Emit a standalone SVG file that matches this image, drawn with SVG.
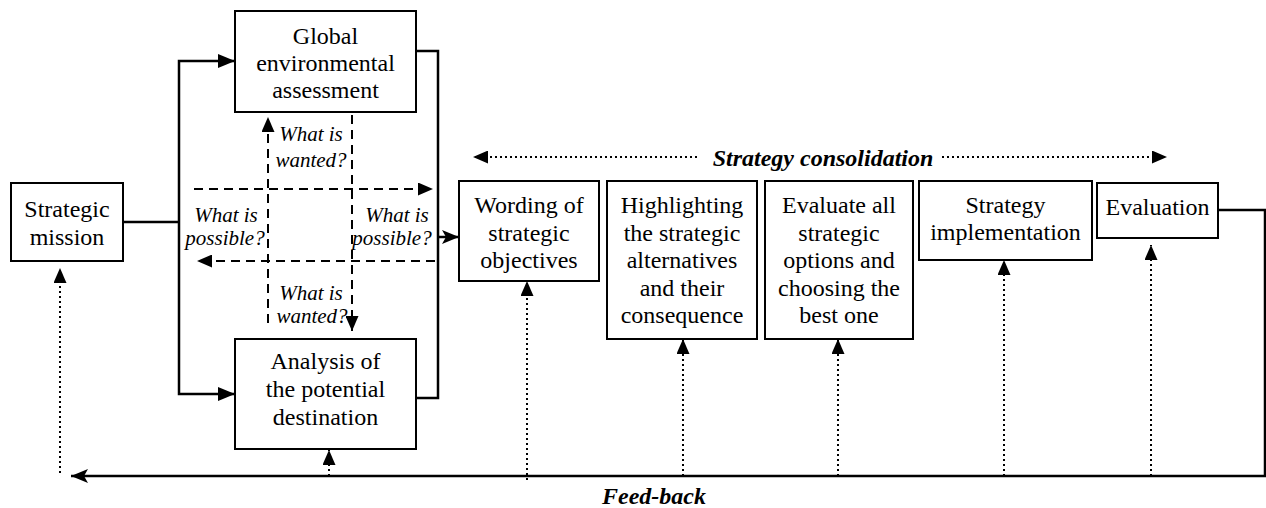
<svg xmlns="http://www.w3.org/2000/svg" width="1266" height="508" viewBox="0 0 1266 508">
<style>
.box{fill:#fff;stroke:#000;stroke-width:2}
.t{font-family:'Liberation Serif','Times New Roman',serif;font-size:24px;fill:#000;text-anchor:middle}
.q{font-family:'Liberation Serif','Times New Roman',serif;font-size:21px;font-style:italic;fill:#000;text-anchor:middle}
.b{font-family:'Liberation Serif','Times New Roman',serif;font-size:24px;font-style:italic;font-weight:bold;fill:#000;text-anchor:middle}
.solid{fill:none;stroke:#000;stroke-width:2.5}
.dash{fill:none;stroke:#000;stroke-width:2;stroke-dasharray:9,6}
.dot{fill:none;stroke:#000;stroke-width:2;stroke-dasharray:2,3}
</style>
<defs>
<marker id="ah" markerUnits="userSpaceOnUse" markerWidth="17" markerHeight="14" refX="17" refY="7" orient="auto"><path d="M0,0 L17,7 L0,14 z" fill="#000"/></marker>
<marker id="ahn" markerUnits="userSpaceOnUse" markerWidth="17" markerHeight="14" refX="17" refY="7" orient="auto"><path d="M0,0 L17,7 L0,14 L4,7 z" fill="#000"/></marker>
<marker id="ah2" markerUnits="userSpaceOnUse" markerWidth="15" markerHeight="13" refX="15" refY="6.5" orient="auto"><path d="M0,0 L15,6.5 L0,13 z" fill="#000"/></marker>
</defs>
<g id="connectors">
<path class="solid" d="M123,222 H179"/>
<path class="solid" d="M179,222 V61 H235" marker-end="url(#ah)"/>
<path class="solid" d="M179,222 V394 H235" marker-end="url(#ah)"/>
<path class="solid" d="M416,51 H438 V398 H416"/>
<path class="solid" d="M438,237 H459" marker-end="url(#ahn)"/>
<path class="solid" d="M1218,210 H1265 V476 H71" marker-end="url(#ahn)"/>
<path class="dash" d="M194,189 H433" marker-end="url(#ah2)"/>
<path class="dash" d="M435,261 H197" marker-end="url(#ah2)"/>
<path class="dash" d="M268,323 V117" marker-end="url(#ah2)"/>
<path class="dash" d="M352,115 V331" marker-end="url(#ah2)"/>
<path class="dot" d="M60,473 V268" marker-end="url(#ah2)"/>
<path class="dot" d="M329,476 V450" marker-end="url(#ah2)"/>
<path class="dot" d="M527,480 V281" marker-end="url(#ah2)"/>
<path class="dot" d="M683,476 V339" marker-end="url(#ah2)"/>
<path class="dot" d="M838,476 V339" marker-end="url(#ah2)"/>
<path class="dot" d="M1004,476 V260" marker-end="url(#ah2)"/>
<path class="dot" d="M1151,476 V245" marker-end="url(#ah2)"/>
<path class="dot" d="M697,157 H473" marker-end="url(#ah2)"/>
<path class="dot" d="M942,157 H1167" marker-end="url(#ah2)"/>
</g>
<g id="labels">
<text class="q" x="311" y="141">What is</text>
<text class="q" x="311" y="167">wanted?</text>
<text class="q" x="226" y="222">What is</text>
<text class="q" x="225" y="245">possible?</text>
<text class="q" x="397" y="222">What is</text>
<text class="q" x="392" y="245">possible?</text>
<text class="q" x="311" y="300">What is</text>
<text class="q" x="312" y="323">wanted?</text>
<text class="b" x="823" y="166">Strategy consolidation</text>
<text class="b" x="654" y="504">Feed-back</text>
</g>
<g id="mission"><rect class="box" x="11" y="183" width="112" height="78"/>
<text class="t" x="67" y="217">Strategic</text><text class="t" x="67" y="245">mission</text></g>
<g id="global"><rect class="box" x="235" y="11" width="181" height="101"/>
<text class="t" x="325.5" y="44">Global</text><text class="t" x="325.5" y="71">environmental</text><text class="t" x="325.5" y="98">assessment</text></g>
<g id="analysis"><rect class="box" x="235" y="339" width="181" height="110"/>
<text class="t" x="325.5" y="369">Analysis of</text><text class="t" x="325.5" y="397">the potential</text><text class="t" x="325.5" y="425">destination</text></g>
<g id="wording"><rect class="box" x="459" y="181" width="140" height="100"/>
<text class="t" x="529" y="213">Wording of</text><text class="t" x="529" y="241">strategic</text><text class="t" x="529" y="268">objectives</text></g>
<g id="highlighting"><rect class="box" x="607" y="181" width="150" height="158"/>
<text class="t" x="682" y="213">Highlighting</text><text class="t" x="682" y="241">the strategic</text><text class="t" x="682" y="268">alternatives</text><text class="t" x="682" y="296">and their</text><text class="t" x="682" y="323">consequence</text></g>
<g id="evaluate"><rect class="box" x="765" y="181" width="148" height="158"/>
<text class="t" x="839" y="213">Evaluate all</text><text class="t" x="839" y="241">strategic</text><text class="t" x="839" y="268">options and</text><text class="t" x="839" y="296">choosing the</text><text class="t" x="839" y="323">best one</text></g>
<g id="implementation"><rect class="box" x="919" y="181" width="173" height="79"/>
<text class="t" x="1005.5" y="213">Strategy</text><text class="t" x="1005.5" y="240">implementation</text></g>
<g id="evaluation"><rect class="box" x="1097" y="183" width="121" height="55"/>
<text class="t" x="1157.5" y="215">Evaluation</text></g>
</svg>
